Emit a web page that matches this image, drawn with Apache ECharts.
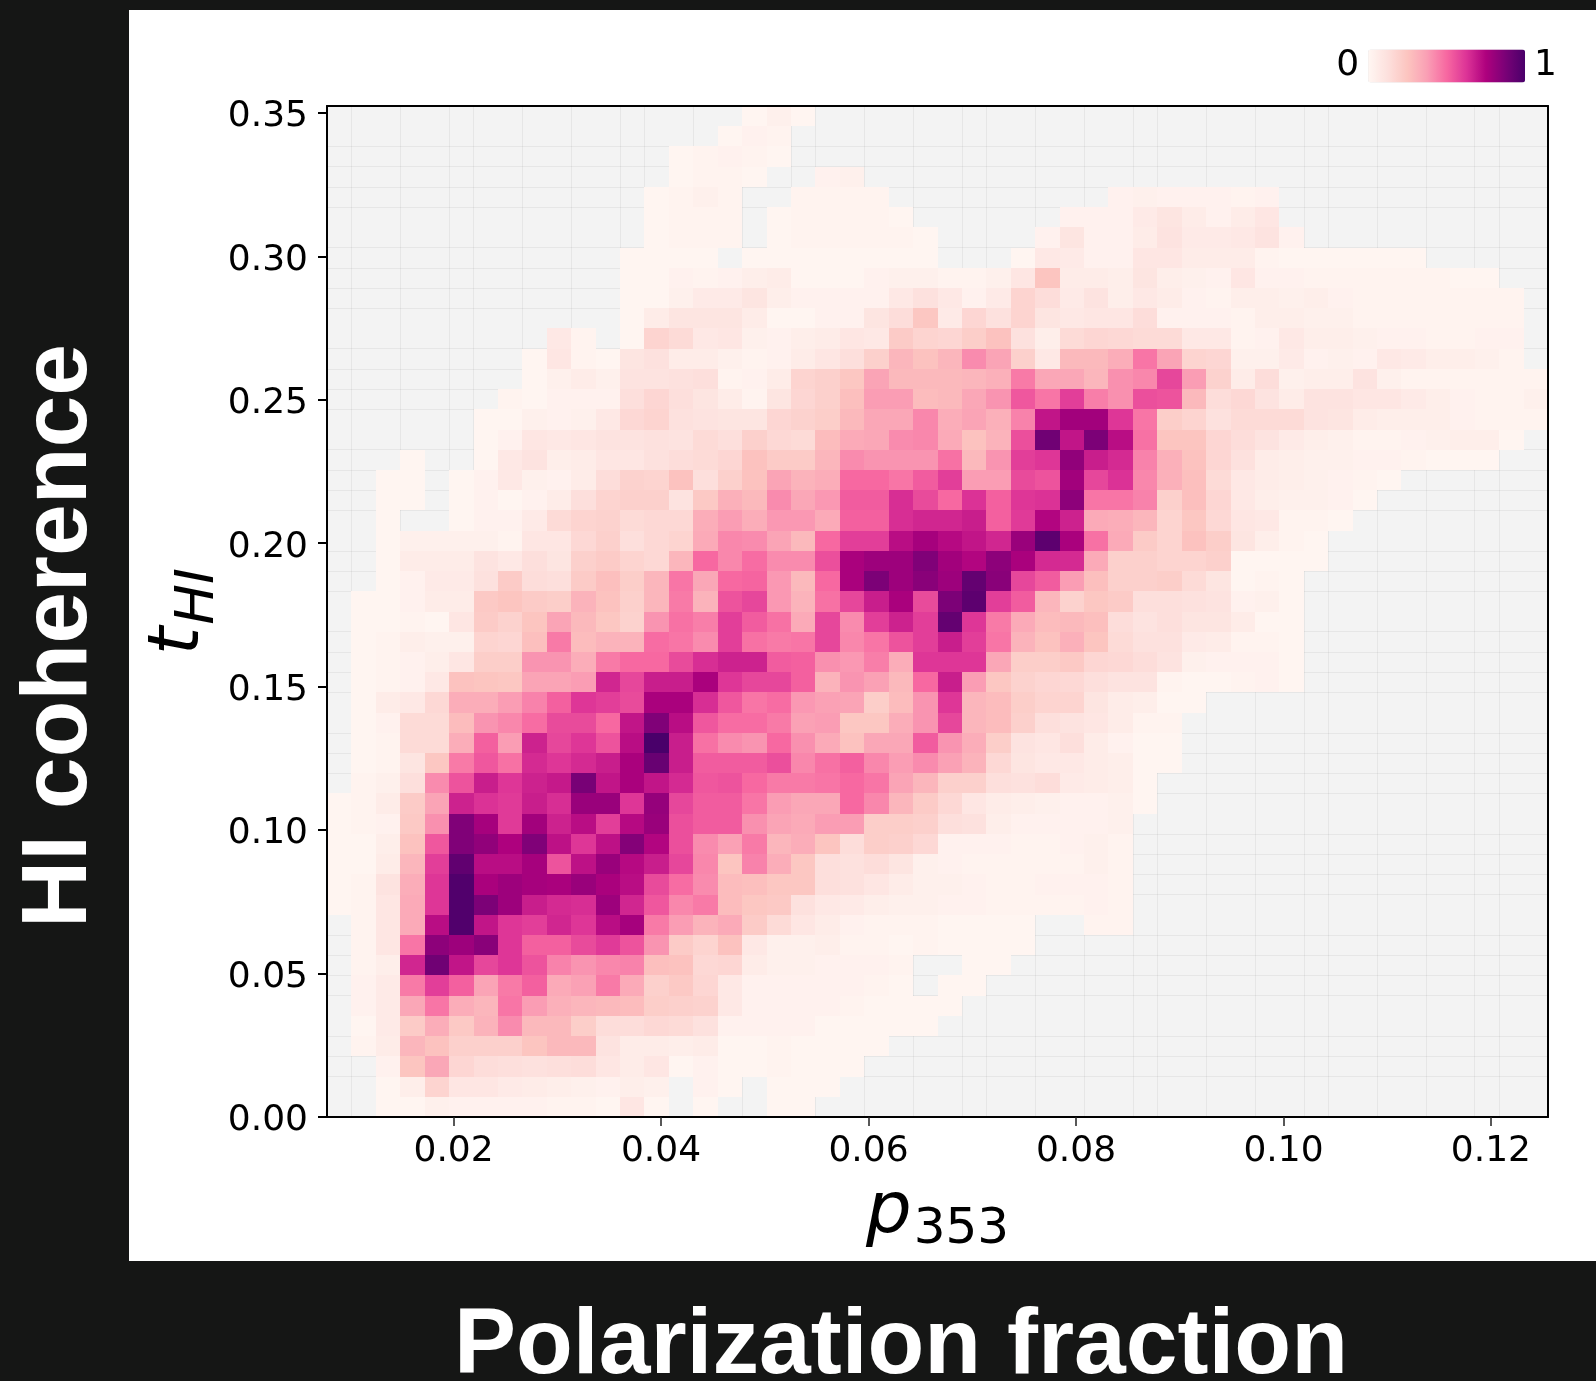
<!DOCTYPE html>
<html>
<head>
<meta charset="utf-8">
<title>HI coherence vs polarization fraction</title>
<script src="https://cdn.jsdelivr.net/npm/echarts@6/dist/echarts.min.js"></script>
<style>
  html, body { margin: 0; padding: 0; background: #151615; overflow: hidden; }
  #panel { position: absolute; left: 129px; top: 10px; width: 1467px; height: 1251px; background: #fff; }
  #chart { position: absolute; left: 0; top: 0; width: 1596px; height: 1381px; }
</style>
</head>
<body>
<div id="panel"></div>
<div id="chart"></div>
<script>
// axis limits
const xMin = 0.0078
const xMax = 0.1255
const yMin = 0
const yMax = 0.3524
const nCols = 50
const nRows = 50
const xTicks = [0.02, 0.04, 0.06, 0.08, 0.10, 0.12]
const yTicks = [0, 0.05, 0.10, 0.15, 0.20, 0.25, 0.30, 0.35]

// RdPu
const colours = ['#fff7f3', '#fde0dd', '#fcc5c0', '#fa9fb5', '#f768a1', '#dd3497', '#ae017e', '#7a0177', '#49006a']

// faint cell lines that survive in the picture, in cell indices
const colLines = [1, 3, 5, 6, 8, 10, 12, 13, 15, 17, 19, 20, 22, 24, 26, 27, 29, 31, 33, 34, 36, 38, 40, 41, 43, 45, 47, 48]
const rowLines = [2, 3, 4, 6, 7, 8, 9, 11, 12, 13, 14, 16, 17, 18, 19, 21, 22, 23, 24, 26, 27, 28, 30, 31, 32, 33, 35, 36, 37, 38, 40, 41, 42, 43, 45, 46, 47, 48]

// first filled column of each row, top row first
const rowStart = [17, 16, 14, 14, 13, 13, 13, 12, 12, 12, 12, 9, 8, 8, 7, 6, 6, 3, 2, 2, 2, 2, 2, 2, 1,
  1, 1, 1, 1, 1, 1, 1, 1, 1, 0, 0, 0, 0, 0, 0, 1, 1, 1, 1, 1, 1, 1, 2, 2, 2]

// density in percent of the peak, 0 means no data
const r00 = [1, 4, 1]
const r01 = [1, 3, 2]
const r02 = [1, 2, 3, 2, 1]
const r03 = [1, 2, 2, 1, 0, 0, 3, 4]
const r04 = [1, 2, 4, 2, 0, 0, 2, 2, 2, 2, 0, 0, 0, 0, 0, 0, 0, 0, 0, 3, 4, 3, 3, 3, 2, 3]
const r05 = [1, 2, 2, 2, 0, 1, 2, 2, 2, 2, 1, 0, 0, 0, 0, 0, 0, 3, 3, 3, 7, 10, 6, 3, 6, 9]
const r06 = [1, 2, 2, 2, 0, 1, 2, 2, 2, 2, 2, 1, 0, 0, 0, 0, 3, 10, 3, 3, 6, 11, 7, 7, 8, 11, 3]
const r07 = [1, 1, 1, 1, 0, 1, 1, 1, 1, 1, 1, 1, 1, 0, 0, 0, 1, 8, 7, 3, 3, 9, 9, 6, 6, 6, 2, 1, 1, 1, 1, 1, 1]
const r08 = [1, 1, 3, 2, 3, 5, 6, 1, 1, 1, 3, 4, 4, 2, 2, 4, 9, 25, 6, 6, 5, 10, 5, 4, 3, 9, 3, 3, 2, 2, 2, 2, 2, 2, 1, 1]
const r09 = [1, 1, 4, 7, 7, 10, 5, 3, 3, 3, 3, 8, 12, 8, 3, 7, 18, 14, 7, 11, 5, 8, 6, 3, 2, 5, 5, 4, 5, 3, 2, 2, 2, 2, 2, 2, 2]
const r10 = [1, 6, 10, 10, 10, 6, 1, 1, 3, 3, 10, 14, 24, 7, 17, 12, 18, 10, 8, 9, 9, 14, 3, 3, 3, 2, 5, 5, 4, 4, 2, 2, 2, 2, 2, 2, 2]
const r11 = [8, 2, 0, 1, 18, 15, 8, 9, 4, 3, 5, 6, 9, 8, 22, 18, 17, 21, 26, 12, 5, 15, 17, 16, 15, 15, 8, 8, 2, 3, 8, 5, 5, 4, 3, 3, 2, 2, 3, 3]
const r12 = [1, 9, 2, 1, 10, 12, 6, 6, 4, 2, 3, 6, 9, 13, 20, 30, 26, 30, 42, 36, 20, 8, 29, 29, 33, 47, 36, 18, 17, 4, 4, 7, 3, 4, 3, 8, 7, 5, 5, 4, 2]
const r13 = [1, 4, 6, 4, 11, 11, 12, 13, 2, 3, 6, 18, 20, 24, 36, 29, 29, 29, 30, 32, 46, 35, 35, 30, 41, 43, 58, 38, 19, 6, 14, 4, 5, 5, 11, 4, 2, 2, 2, 2, 2, 2]
const r14 = [2, 1, 3, 3, 3, 13, 17, 13, 10, 6, 2, 10, 17, 20, 27, 38, 38, 28, 29, 35, 40, 54, 47, 60, 45, 41, 56, 55, 29, 14, 16, 11, 6, 11, 11, 9, 9, 7, 5, 3, 2, 2, 4]
const r15 = [1, 1, 4, 3, 4, 8, 16, 18, 12, 11, 10, 10, 17, 19, 21, 29, 35, 35, 43, 33, 36, 32, 44, 70, 78, 78, 62, 47, 21, 18, 12, 15, 15, 15, 11, 10, 6, 5, 5, 5, 3, 2, 2, 2]
const r16 = [1, 3, 9, 8, 9, 11, 11, 12, 11, 15, 13, 20, 16, 15, 28, 34, 35, 42, 43, 34, 26, 31, 56, 90, 70, 87, 72, 48, 25, 25, 17, 14, 11, 7, 5, 4, 2, 2, 3, 4, 5, 5, 1]
const r17 = [1, 0, 0, 1, 8, 11, 5, 6, 9, 9, 12, 14, 15, 17, 26, 22, 22, 30, 42, 40, 40, 40, 48, 29, 40, 60, 62, 82, 68, 65, 44, 32, 26, 17, 12, 6, 5, 4, 4, 3, 3, 2, 1, 1, 1]
const r18 = [1, 1, 0, 1, 3, 8, 4, 3, 6, 14, 19, 18, 26, 13, 20, 26, 36, 31, 33, 50, 50, 47, 53, 60, 38, 38, 57, 55, 78, 58, 63, 43, 32, 27, 15, 8, 6, 5, 4, 3, 2, 1]
const r19 = [1, 1, 0, 1, 3, 1, 3, 6, 13, 18, 20, 20, 11, 23, 32, 29, 42, 35, 39, 53, 53, 64, 57, 50, 63, 52, 62, 63, 83, 47, 47, 44, 20, 27, 17, 8, 5, 4, 4, 3, 1]
const r20 = [1, 0, 0, 1, 3, 3, 7, 15, 18, 19, 15, 16, 16, 33, 38, 33, 39, 39, 34, 52, 52, 64, 66, 66, 68, 52, 61, 74, 67, 34, 33, 30, 18, 24, 16, 9, 8, 2, 2, 1]
const r21 = [1, 4, 4, 4, 4, 2, 9, 9, 16, 20, 13, 16, 18, 34, 43, 42, 36, 29, 50, 60, 60, 72, 77, 73, 70, 66, 80, 95, 76, 48, 34, 22, 18, 26, 21, 10, 5, 2, 1]
const r22 = [1, 6, 6, 6, 11, 8, 13, 10, 20, 22, 18, 16, 30, 50, 43, 49, 42, 42, 56, 76, 79, 79, 86, 78, 74, 83, 76, 65, 65, 34, 20, 20, 18, 18, 20, 1, 1, 1, 1]
const r23 = [1, 3, 7, 7, 12, 22, 14, 13, 22, 27, 21, 30, 47, 35, 50, 51, 39, 29, 50, 76, 87, 79, 84, 79, 93, 84, 58, 53, 38, 27, 20, 20, 21, 15, 10, 1, 2, 1]
const r24 = [1, 1, 3, 6, 6, 23, 25, 22, 21, 31, 26, 20, 30, 46, 31, 55, 58, 39, 31, 48, 58, 68, 76, 57, 87, 95, 60, 53, 30, 19, 24, 22, 13, 13, 12, 11, 3, 4, 1]
const r25 = [1, 1, 2, 1, 9, 22, 19, 25, 36, 29, 24, 19, 40, 48, 45, 60, 53, 48, 34, 58, 42, 60, 67, 60, 93, 62, 46, 34, 28, 29, 27, 14, 11, 13, 10, 10, 6, 1, 1]
const r26 = [1, 2, 5, 4, 4, 18, 17, 27, 46, 28, 31, 31, 49, 47, 42, 60, 48, 46, 47, 58, 43, 47, 55, 60, 68, 60, 47, 31, 26, 32, 25, 15, 12, 12, 7, 6, 2, 2, 1]
const r27 = [1, 2, 3, 5, 9, 21, 21, 40, 40, 33, 46, 50, 50, 57, 64, 67, 67, 53, 52, 41, 39, 45, 33, 62, 62, 62, 35, 21, 21, 23, 17, 16, 14, 11, 4, 3, 3, 3, 1]
const r28 = [1, 2, 3, 8, 26, 25, 24, 36, 36, 38, 66, 58, 68, 68, 76, 62, 58, 58, 52, 31, 40, 37, 29, 50, 68, 38, 24, 19, 17, 16, 13, 11, 11, 2, 1, 1, 2, 3, 1]
const r29 = [1, 6, 8, 16, 33, 33, 38, 44, 52, 62, 60, 57, 76, 76, 64, 54, 47, 49, 39, 37, 36, 21, 28, 40, 62, 30, 28, 21, 18, 18, 10, 6, 5, 1, 1]
const r30 = [1, 3, 15, 15, 28, 40, 43, 49, 57, 57, 50, 70, 86, 72, 54, 49, 49, 46, 37, 38, 24, 24, 33, 40, 58, 30, 28, 20, 13, 11, 9, 6, 2, 2]
const r31 = [1, 2, 15, 15, 33, 52, 38, 67, 58, 62, 55, 72, 100, 68, 48, 42, 40, 50, 41, 34, 26, 35, 35, 53, 40, 33, 21, 11, 9, 13, 6, 3, 1, 1]
const r32 = [1, 2, 10, 24, 46, 54, 48, 65, 62, 65, 68, 76, 92, 68, 53, 53, 53, 56, 43, 48, 52, 43, 38, 42, 37, 31, 16, 10, 8, 8, 6, 5, 1, 1]
const r33 = [2, 4, 13, 42, 55, 68, 62, 67, 69, 88, 70, 76, 70, 65, 54, 55, 50, 46, 46, 47, 50, 47, 36, 30, 20, 20, 13, 12, 14, 7, 6, 5, 1]
const r34 = [1, 2, 6, 22, 36, 67, 63, 61, 68, 64, 80, 80, 62, 81, 58, 53, 53, 47, 38, 35, 35, 50, 43, 30, 22, 16, 9, 6, 5, 4, 3, 3, 4, 1]
const r35 = [1, 2, 3, 23, 41, 86, 77, 61, 78, 67, 72, 60, 73, 80, 56, 53, 53, 41, 36, 34, 38, 38, 21, 21, 20, 13, 12, 5, 3, 3, 3, 3, 4]
const r36 = [1, 1, 5, 26, 54, 86, 82, 75, 86, 71, 62, 71, 85, 74, 56, 42, 37, 46, 30, 33, 25, 14, 21, 20, 16, 3, 3, 3, 2, 2, 3, 4, 2]
const r37 = [1, 1, 6, 30, 60, 94, 72, 72, 77, 55, 71, 80, 73, 68, 58, 43, 25, 44, 33, 24, 13, 12, 14, 10, 4, 3, 2, 2, 2, 2, 2, 4, 2]
const r38 = [1, 2, 11, 33, 62, 98, 76, 79, 77, 76, 80, 76, 72, 57, 49, 42, 28, 27, 24, 24, 13, 12, 9, 6, 4, 4, 3, 2, 2, 3, 3, 3, 2]
const r39 = [1, 2, 9, 34, 62, 98, 87, 79, 68, 65, 64, 79, 66, 54, 43, 46, 28, 24, 23, 12, 8, 7, 5, 4, 4, 3, 3, 2, 2, 2, 2, 3, 2]
const r40 = [2, 9, 34, 72, 98, 70, 62, 60, 66, 62, 72, 77, 46, 38, 31, 34, 22, 15, 9, 6, 3, 2, 2, 2, 1, 1, 1, 1, 0, 0, 2, 2]
const r41 = [2, 9, 47, 83, 79, 84, 62, 52, 52, 57, 61, 55, 40, 22, 18, 26, 8, 4, 4, 5, 2, 2, 1, 2, 1, 1, 1, 1]
const r42 = [2, 5, 66, 90, 70, 58, 62, 55, 44, 40, 43, 44, 27, 26, 16, 17, 6, 4, 4, 3, 3, 3, 2, 0, 0, 1, 1]
const r43 = [3, 7, 46, 60, 52, 36, 46, 52, 34, 37, 46, 34, 20, 23, 17, 8, 3, 3, 3, 3, 3, 2, 1, 0, 1, 1]
const r44 = [3, 7, 35, 47, 33, 30, 47, 38, 32, 30, 29, 28, 21, 20, 19, 8, 3, 3, 3, 3, 2, 1, 1, 1, 1]
const r45 = [1, 7, 22, 33, 23, 31, 42, 29, 29, 21, 14, 14, 16, 15, 12, 3, 3, 3, 3, 1, 1, 1, 1, 1]
const r46 = [2, 6, 30, 26, 20, 20, 20, 25, 29, 29, 11, 6, 6, 5, 6, 1, 1, 2, 1, 1, 1, 1]
const r47 = [3, 25, 35, 17, 14, 13, 12, 13, 14, 9, 6, 9, 1, 3, 1, 1, 2, 1, 1, 1]
const r48 = [1, 5, 18, 9, 9, 7, 6, 5, 4, 3, 5, 4, 0, 3, 1, 0, 1, 1, 1]
const r49 = [1, 1, 4, 3, 3, 3, 3, 2, 2, 1, 9, 1, 0, 1, 0, 0, 1, 1]

const rows = [r00, r01, r02, r03, r04, r05, r06, r07, r08, r09, r10, r11, r12, r13, r14, r15, r16, r17, r18, r19,
  r20, r21, r22, r23, r24, r25, r26, r27, r28, r29, r30, r31, r32, r33, r34, r35, r36, r37, r38, r39,
  r40, r41, r42, r43, r44, r45, r46, r47, r48, r49]

const cellW = (xMax - xMin) / nCols
const cellH = (yMax - yMin) / nRows

// each cell as its bin edges plus the value
const cells = []
rows.forEach((row, i) => {
  row.forEach((v, j) => {
    if (!v) return
    const x0 = xMin + (rowStart[i] + j) * cellW
    const y0 = yMax - (i + 1) * cellH
    cells.push([x0, y0, x0 + cellW, y0 + cellH, v / 100])
  })
})

const mathFont = '"DejaVu Sans"'
const headFont = '"Liberation Sans"'
const frameLine = { show: true, onZero: false, lineStyle: { color: '#000', width: 2 } }

const chart = echarts.init(document.getElementById('chart'), null, { renderer: 'canvas' })
chart.setOption({
  animation: false,
  backgroundColor: 'transparent',
  grid: {
    left: 327, top: 106, width: 1221, height: 1011,
    show: true, backgroundColor: '#f3f3f3', borderWidth: 0
  },
  xAxis: [
    {
      type: 'value', min: xMin, max: xMax, position: 'bottom', z: 5,
      name: '{p|p}{s|353}', nameLocation: 'center', nameGap: 60,
      nameTextStyle: {
        rich: {
          p: { fontFamily: mathFont, fontSize: 72, fontStyle: 'italic', color: '#000', padding: [0, 0, 6, 0] },
          s: { fontFamily: mathFont, fontSize: 50, color: '#000', verticalAlign: 'bottom', padding: [0, 0, 0, 2] }
        }
      },
      axisLine: frameLine,
      axisTick: { show: true, length: 9, customValues: xTicks, lineStyle: { color: '#222', width: 1.5 } },
      axisLabel: {
        customValues: xTicks, margin: 17, fontFamily: mathFont, fontSize: 36, color: '#000',
        formatter: v => v.toFixed(2)
      },
      splitLine: { show: false }
    },
    // faint cell lines, below the cells
    {
      type: 'value', min: 0, max: nCols, position: 'top', z: 1,
      axisLine: { show: false },
      axisTick: { show: false, customValues: colLines },
      axisLabel: { show: false },
      splitLine: { show: true, lineStyle: { color: 'rgba(0,0,0,0.05)', width: 1 } }
    },
    // top edge of the frame
    {
      type: 'value', min: 0, max: nCols, position: 'top', z: 5,
      axisLine: frameLine,
      axisTick: { show: false },
      axisLabel: { show: false },
      splitLine: { show: false }
    }
  ],
  yAxis: [
    {
      type: 'value', min: yMin, max: yMax, position: 'left', z: 5,
      name: '{t|t}{s|HI}', nameLocation: 'center', nameGap: 101, nameRotate: 90, nameMoveOverlap: false,
      nameTextStyle: {
        rich: {
          t: { fontFamily: mathFont, fontSize: 72, fontStyle: 'italic', color: '#000', padding: [0, 0, 11, 0] },
          s: { fontFamily: mathFont, fontSize: 54, fontStyle: 'italic', color: '#000', verticalAlign: 'bottom', padding: [0, 0, 0, 2] }
        }
      },
      axisLine: frameLine,
      axisTick: { show: true, length: 9, customValues: yTicks, lineStyle: { color: '#000', width: 2 } },
      axisLabel: {
        customValues: yTicks, margin: 19, fontFamily: mathFont, fontSize: 36, color: '#000',
        formatter: v => '{a|' + v.toFixed(2) + '}',
        rich: { a: { fontFamily: mathFont, fontSize: 36, color: '#000', padding: [8, 0, 0, 0] } }
      },
      splitLine: { show: false }
    },
    {
      type: 'value', min: 0, max: nRows, position: 'right', z: 1,
      axisLine: { show: false },
      axisTick: { show: false, customValues: rowLines },
      axisLabel: { show: false },
      splitLine: { show: true, lineStyle: { color: 'rgba(0,0,0,0.05)', width: 1 } }
    },
    // right edge of the frame
    {
      type: 'value', min: 0, max: nRows, position: 'right', z: 5,
      axisLine: frameLine,
      axisTick: { show: false },
      axisLabel: { show: false },
      splitLine: { show: false }
    }
  ],
  visualMap: {
    type: 'continuous', seriesIndex: 0, dimension: 4, min: 0, max: 1,
    orient: 'horizontal', calculable: false, realtime: false,
    right: 24, top: 33, itemWidth: 33, itemHeight: 157,
    text: ['1', '0'], textGap: 9,
    textStyle: { fontFamily: mathFont, fontSize: 36, color: '#000' },
    inRange: { color: colours }
  },
  series: [{
    type: 'custom',
    z: 3,
    data: cells,
    xAxisIndex: 0,
    yAxisIndex: 0,
    encode: { x: [0, 2], y: [1, 3] },
    renderItem: (params, api) => {
      const a = api.coord([api.value(0), api.value(1)])
      const b = api.coord([api.value(2), api.value(3)])
      const left = Math.round(a[0])
      const top = Math.round(b[1])
      return {
        type: 'rect',
        shape: { x: left, y: top, width: Math.round(b[0]) - left, height: Math.round(a[1]) - top },
        style: { fill: api.visual('color') }
      }
    }
  }],
  graphic: [
    {
      type: 'text', x: 60, y: 636, rotation: Math.PI / 2,
      style: {
        text: 'HI coherence', fill: '#fff', font: 'bold 93px ' + headFont,
        align: 'center', verticalAlign: 'middle'
      }
    },
    {
      type: 'text', x: 901, y: 1347,
      style: {
        text: 'Polarization fraction', fill: '#fff', font: 'bold 93px ' + headFont,
        align: 'center', verticalAlign: 'middle'
      }
    }
  ]
})

window.addEventListener('resize', () => {
  chart.resize()
})
</script>
</body>
</html>
